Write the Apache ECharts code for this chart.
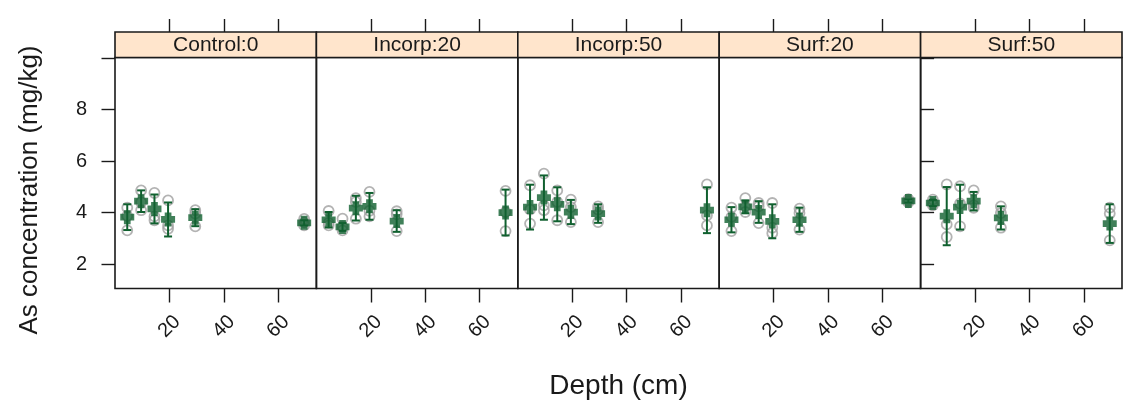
<!DOCTYPE html>
<html><head><meta charset="utf-8">
<script src="https://cdn.jsdelivr.net/npm/echarts@6/dist/echarts.min.js"></script>
<style>html,body{margin:0;padding:0;background:#fff}#c{width:1126px;height:406px}</style>
</head><body><div id="c"></div>
<script>
// ---------------- data ----------------
const panelNames = ['Control:0', 'Incorp:20', 'Incorp:50', 'Surf:20', 'Surf:50'];
const depths = [4.5, 9.6, 14.5, 19.5, 29.5, 69.5];
const xTickValues = [20, 40, 60];
const yTickValues = [2, 4, 6, 8];
const yTickMarks = [2, 4, 6, 8, 10];

// raw replicate concentrations (mg/kg), one list per depth
const control0Raw = [[4.19, 3.87, 3.31], [4.86, 4.40, 4.09], [4.76, 3.85, 3.70], [4.47, 3.50, 3.37], [4.09, 3.96, 3.46], [3.75, 3.62, 3.50]];
const incorp20Raw = [[4.06, 3.60, 3.50], [3.76, 3.45, 3.31], [4.56, 4.41, 3.76], [4.80, 4.07, 3.85], [4.05, 3.93, 3.28], [4.84, 4.02, 3.28]];
const incorp50Raw = [[5.06, 4.11, 3.57], [5.51, 4.28, 4.09], [4.86, 4.41, 3.70], [4.50, 4.21, 3.63], [4.24, 4.11, 3.63], [5.09, 3.89, 3.50]];
const surf20Raw   = [[4.19, 3.83, 3.28], [4.56, 4.24, 4.02], [4.37, 4.24, 3.59], [4.37, 3.41, 3.20], [4.15, 3.98, 3.34], [4.52, 4.45, 4.40]];
const surf50Raw   = [[4.50, 4.35, 4.28], [5.09, 3.54, 3.05], [5.02, 4.35, 3.46], [4.86, 4.28, 4.18], [4.24, 3.98, 3.41], [4.19, 3.96, 2.92]];

// means and error-bar half widths
const control0Mean = [3.82, 4.44, 4.14, 3.73, 3.80, 3.60];
const incorp20Mean = [3.72, 3.44, 4.17, 4.24, 3.67, 4.00];
const incorp50Mean = [4.21, 4.58, 4.32, 4.02, 3.96, 4.09];
const surf20Mean   = [3.72, 4.22, 4.02, 3.66, 3.72, 4.45];
const surf50Mean   = [4.37, 3.86, 4.21, 4.44, 3.79, 3.57];

const control0Err = [0.50, 0.42, 0.56, 0.66, 0.33, 0.10];
const incorp20Err = [0.30, 0.15, 0.48, 0.52, 0.42, 0.89];
const incorp50Err = [0.87, 0.86, 0.66, 0.47, 0.36, 0.89];
const surf20Err   = [0.49, 0.25, 0.42, 0.66, 0.47, 0.06];
const surf50Err   = [0.12, 1.13, 0.87, 0.36, 0.45, 0.75];

const rawByPanel = [control0Raw, incorp20Raw, incorp50Raw, surf20Raw, surf50Raw];
const meanByPanel = [control0Mean, incorp20Mean, incorp50Mean, surf20Mean, surf50Mean];
const errByPanel = [control0Err, incorp20Err, incorp50Err, surf20Err, surf50Err];

// ---------------- style / layout ----------------
const FONT = "'Liberation Sans', Arial, Helvetica, sans-serif";
const INK = '#1a1a1a';
const GREEN = '#10602f';
const GREY = '#a0a0a0';
const STRIP_FILL = '#ffe5cc';
const L = 115, R = 1122, TOP = 57.5, BOT = 288.5, STRIP = 25.5;
const N = panelNames.length;
const PW = (R - L) / N;
const X_MIN = 0, X_MAX = 74, Y_MIN = 1.05, Y_MAX = 10.02;
const PLUS = 'path://M2.6,0L7.4,0L7.4,2.6L10,2.6L10,7.4L7.4,7.4L7.4,10L2.6,10L2.6,7.4L0,7.4L0,2.6L2.6,2.6Z';

const grids = [], xAxes = [], yAxes = [], series = [], graphics = [];
const tickLine = { color: INK, width: 1.4 };

for (let i = 0; i < N; i++) {
  const left = L + i * PW;
  grids.push({ left: left, top: TOP, width: PW, height: BOT - TOP, show: true,
    borderColor: INK, borderWidth: 1.6, backgroundColor: 'transparent', containLabel: false });
  // bottom x axis with labels
  xAxes.push({ type: 'value', gridIndex: i, position: 'bottom', min: X_MIN, max: X_MAX,
    axisLine: { show: false }, splitLine: { show: false },
    axisTick: { show: true, length: 14, customValues: xTickValues, lineStyle: tickLine },
    axisLabel: { show: true, customValues: xTickValues, rotate: 45, align: 'center', verticalAlign: 'middle',
      margin: 38, fontSize: 20, color: INK, fontFamily: FONT } });
  // top x axis: ticks only, above strip
  xAxes.push({ type: 'value', gridIndex: i, position: 'top', offset: STRIP, min: X_MIN, max: X_MAX,
    axisLine: { show: false }, splitLine: { show: false },
    axisTick: { show: true, length: 13, customValues: xTickValues, lineStyle: tickLine },
    axisLabel: { show: false } });
  const yAx = { type: 'value', gridIndex: i, min: Y_MIN, max: Y_MAX,
    axisLine: { show: false }, splitLine: { show: false } };
  if (i === 0) {
    Object.assign(yAx, { position: 'left',
      axisTick: { show: true, length: 13.5, customValues: yTickMarks, lineStyle: tickLine },
      axisLabel: { show: true, customValues: yTickValues, margin: 28, fontSize: 20, color: INK, fontFamily: FONT } });
  } else if (i === N - 1) {
    Object.assign(yAx, { position: 'right',
      axisTick: { show: true, length: 13.5, customValues: yTickMarks, lineStyle: tickLine },
      axisLabel: { show: false } });
  } else {
    Object.assign(yAx, { axisTick: { show: false }, axisLabel: { show: false } });
  }
  yAxes.push(yAx);

  const raw = [], means = [], bars = [];
  depths.forEach((d, k) => {
    rawByPanel[i][k].forEach(v => raw.push([d, v]));
    means.push([d, meanByPanel[i][k]]);
    bars.push([d, meanByPanel[i][k], errByPanel[i][k]]);
  });
  series.push({ type: 'scatter', xAxisIndex: 2 * i, yAxisIndex: i, data: raw, symbol: 'circle', symbolSize: 10,
    itemStyle: { color: 'rgba(0,0,0,0)', borderColor: GREY, borderWidth: 1.8 }, z: 2, silent: true, animation: false });
  series.push({ type: 'custom', xAxisIndex: 2 * i, yAxisIndex: i, data: bars, z: 3, silent: true, animation: false,
    encode: { x: 0, y: 1 },
    renderItem: function (params, api) {
      const x = api.value(0), m = api.value(1), e = api.value(2);
      const a = api.coord([x, m + e]), b = api.coord([x, m - e]);
      const c = 4;
      const st = { stroke: GREEN, lineWidth: 2 };
      return { type: 'group', children: [
        { type: 'line', shape: { x1: a[0], y1: a[1], x2: b[0], y2: b[1] }, style: st },
        { type: 'line', shape: { x1: a[0] - c, y1: a[1], x2: a[0] + c, y2: a[1] }, style: st },
        { type: 'line', shape: { x1: b[0] - c, y1: b[1], x2: b[0] + c, y2: b[1] }, style: st }
      ] };
    } });
  series.push({ type: 'scatter', xAxisIndex: 2 * i, yAxisIndex: i, data: means, symbol: PLUS, symbolSize: 14,
    itemStyle: { color: GREEN }, z: 4, silent: true, animation: false });

  // strip
  graphics.push({ type: 'rect', shape: { x: left, y: TOP - STRIP, width: PW, height: STRIP },
    style: { fill: STRIP_FILL, stroke: INK, lineWidth: 1.6 }, z: 10 });
  graphics.push({ type: 'text', x: left + PW / 2, y: TOP - STRIP / 2 + 0.5,
    style: { text: panelNames[i], fill: INK, font: '21px ' + FONT, textAlign: 'center', textVerticalAlign: 'middle' }, z: 11 });
}

graphics.push({ type: 'text', x: 30, y: 190, rotation: Math.PI / 2,
  style: { text: 'As concentration (mg/kg)', fill: INK, font: '26px ' + FONT, textAlign: 'center', textVerticalAlign: 'middle' } });
graphics.push({ type: 'text', x: (L + R) / 2, y: 386,
  style: { text: 'Depth (cm)', fill: INK, font: '28px ' + FONT, textAlign: 'center', textVerticalAlign: 'middle' } });

const chart = echarts.init(document.getElementById('c'), null, { renderer: 'canvas' });
chart.setOption({ animation: false, backgroundColor: '#ffffff', grid: grids, xAxis: xAxes, yAxis: yAxes,
  series: series, graphic: graphics });
</script>
</body></html>
